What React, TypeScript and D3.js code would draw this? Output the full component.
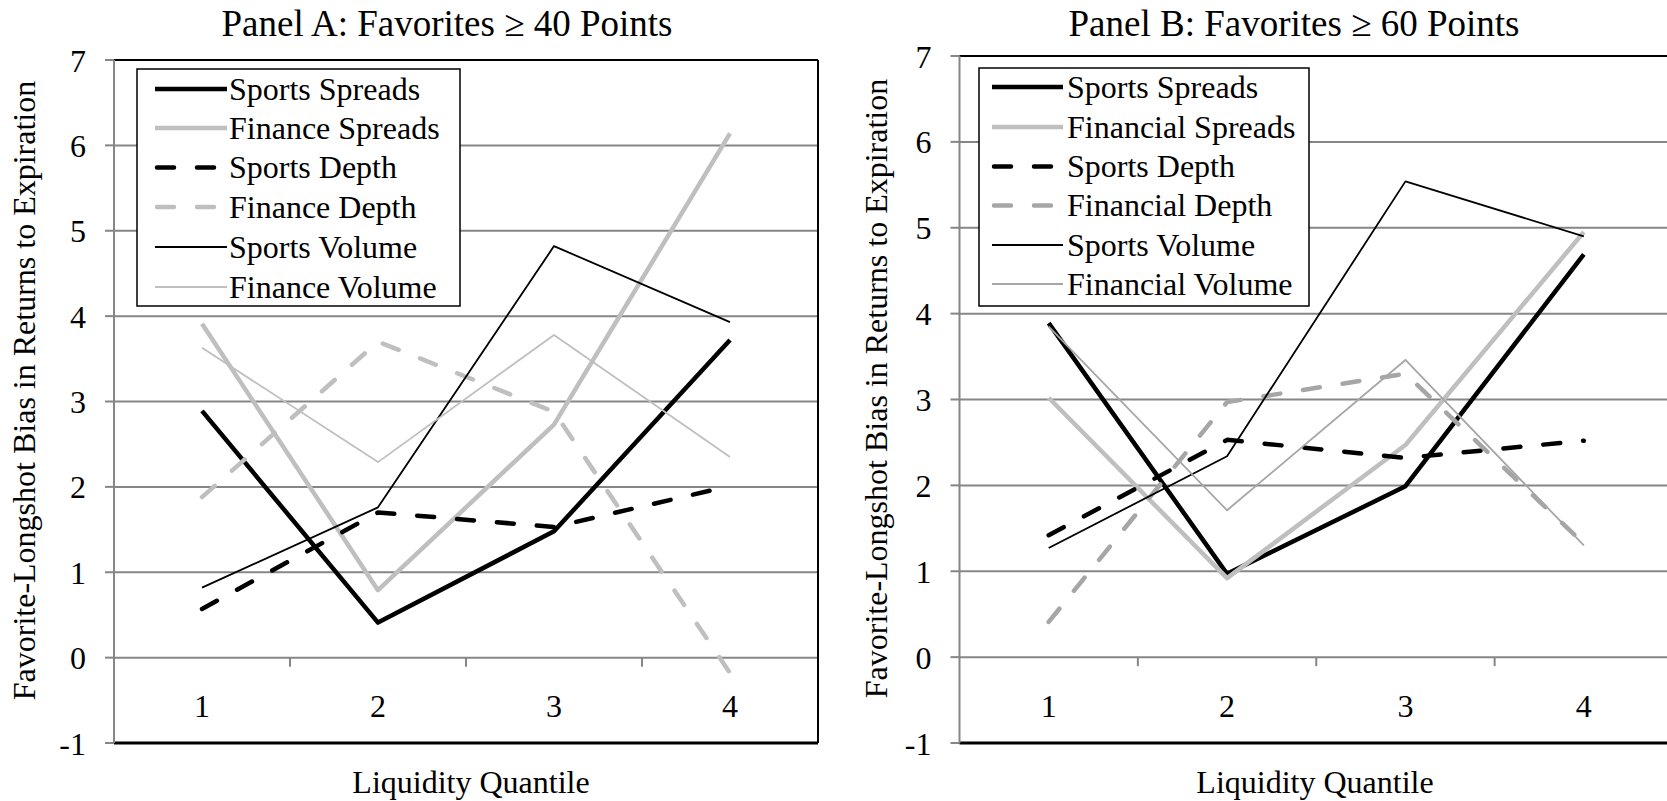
import React from 'react';
import * as d3 from 'd3';

// Liquidity quantiles on the x axis
const categories = ['1', '2', '3', '4'];
const yTicks = [-1, 0, 1, 2, 3, 4, 5, 6, 7];

// Panel A: favorites >= 40 points
const namesA = ['Sports Spreads', 'Finance Spreads', 'Sports Depth', 'Finance Depth', 'Sports Volume', 'Finance Volume'];
const sportsSpreadsA = [2.89, 0.41, 1.48, 3.72];
const financeSpreadsA = [3.91, 0.79, 2.73, 6.14];
const sportsDepthA = [0.57, 1.70, 1.53, 2.01];
const financeDepthA = [1.88, 3.70, 2.88, -0.18];
const sportsVolumeA = [0.82, 1.76, 4.82, 3.93];
const financeVolumeA = [3.63, 2.29, 3.78, 2.35];

// Panel B: favorites >= 60 points
const namesB = ['Sports Spreads', 'Financial Spreads', 'Sports Depth', 'Financial Depth', 'Sports Volume', 'Financial Volume'];
const sportsSpreadsB = [3.89, 0.97, 1.99, 4.69];
const financialSpreadsB = [3.02, 0.92, 2.47, 4.95];
const sportsDepthB = [1.42, 2.53, 2.32, 2.52];
const financialDepthB = [0.41, 2.97, 3.30, 1.32];
const sportsVolumeB = [1.27, 2.34, 5.54, 4.90];
const financialVolumeB = [3.85, 1.71, 3.46, 1.30];

const FONT = '"Liberation Serif", "Times New Roman", serif';
const DASH = '17 23';

type LineStyle = { color: string; width: number; dash?: string };

const stylesA: LineStyle[] = [
  { color: '#000', width: 4.5 },
  { color: '#bfbfbf', width: 4.5 },
  { color: '#000', width: 4.5, dash: DASH },
  { color: '#bfbfbf', width: 4.5, dash: DASH },
  { color: '#000', width: 1.8 },
  { color: '#bfbfbf', width: 1.8 },
];
const stylesB: LineStyle[] = [
  { color: '#000', width: 4.5 },
  { color: '#bfbfbf', width: 4.5 },
  { color: '#000', width: 4.5, dash: DASH },
  { color: '#a6a6a6', width: 4.5, dash: DASH },
  { color: '#000', width: 1.8 },
  { color: '#a6a6a6', width: 1.8 },
];

type PanelProps = {
  title: string;
  titleX: number;
  left: number;
  right: number;
  top: number;
  bottom: number;
  yTitleX: number;
  xTitleX: number;
  legend: { x: number; y: number; w: number; h: number; lineX1: number; lineX2: number; textX: number; rowY: number[] };
  names: string[];
  series: number[][];
  styles: LineStyle[];
};

function Panel(p: PanelProps) {
  const x = d3.scaleBand<string>().domain(categories).range([p.left, p.right]);
  const y = d3.scaleLinear().domain([-1, 7]).range([p.bottom, p.top]);
  const cx = (c: string) => (x(c) as number) + x.bandwidth() / 2;
  const line = d3
    .line<number>()
    .x((_, i) => cx(categories[i]))
    .y((d) => y(d));
  const grid = '#868686';
  const y0 = y(0);

  return (
    <g fontFamily={FONT}>
      <text x={p.titleX} y={36} fontSize={37} textAnchor="middle">
        {p.title}
      </text>

      {/* gridlines */}
      {yTicks.filter((t) => t >= 0 && t < 7).map((t) => (
        <line key={t} x1={p.left} x2={p.right} y1={y(t)} y2={y(t)} stroke={grid} strokeWidth={2} />
      ))}
      {/* value axis ticks and labels */}
      {yTicks.map((t) => (
        <g key={'yt' + t}>
          <line x1={p.left - 9} x2={p.left} y1={y(t)} y2={y(t)} stroke={grid} strokeWidth={2} />
          <text x={p.left - 28} y={y(t) + 11.5} fontSize={32} textAnchor="end">
            {t}
          </text>
        </g>
      ))}
      {/* category ticks on zero line */}
      {categories.slice(1).map((c) => (
        <line key={'ct' + c} x1={x(c)} x2={x(c)} y1={y0} y2={y0 + 9} stroke={grid} strokeWidth={2} />
      ))}
      {categories.map((c) => (
        <text key={'cl' + c} x={cx(c)} y={717} fontSize={32} textAnchor="middle">
          {c}
        </text>
      ))}

      {/* plot border */}
      <line x1={p.left} x2={p.right} y1={p.top} y2={p.top} stroke="#000" strokeWidth={2} />
      <line x1={p.right} x2={p.right} y1={p.top} y2={p.bottom} stroke="#000" strokeWidth={2} />
      <line x1={p.left} x2={p.right} y1={p.bottom} y2={p.bottom} stroke="#000" strokeWidth={3} />
      <line x1={p.left} x2={p.left} y1={p.top} y2={p.bottom} stroke={grid} strokeWidth={2} />

      {/* series */}
      {p.series.map((s, i) => (
        <path
          key={'s' + i}
          d={line(s) || ''}
          fill="none"
          stroke={p.styles[i].color}
          strokeWidth={p.styles[i].width}
          strokeDasharray={p.styles[i].dash}
          strokeLinecap={p.styles[i].dash ? 'round' : 'butt'}
          strokeLinejoin="round"
        />
      ))}

      {/* legend */}
      <rect x={p.legend.x} y={p.legend.y} width={p.legend.w} height={p.legend.h} fill="#fff" stroke="#000" strokeWidth={1.5} />
      {p.names.map((n, i) => (
        <g key={'lg' + i}>
          <line
            x1={p.legend.lineX1 + (p.styles[i].dash ? 2 : 0)}
            x2={p.legend.lineX2}
            y1={p.legend.rowY[i]}
            y2={p.legend.rowY[i]}
            stroke={p.styles[i].color}
            strokeWidth={p.styles[i].width}
            strokeDasharray={p.styles[i].dash}
            strokeLinecap={p.styles[i].dash ? 'round' : 'butt'}
          />
          <text x={p.legend.textX} y={p.legend.rowY[i] + 10.7} fontSize={32}>
            {n}
          </text>
        </g>
      ))}

      {/* axis titles */}
      <text
        transform={`translate(${p.yTitleX},${(p.top + p.bottom) / 2 - 11}) rotate(-90)`}
        fontSize={32}
        textAnchor="middle"
      >
        Favorite-Longshot Bias in Returns to Expiration
      </text>
      <text x={p.xTitleX} y={793} fontSize={32} textAnchor="middle">
        Liquidity Quantile
      </text>
    </g>
  );
}

export default function App() {
  return (
    <svg
      width={1667}
      height={801}
      style={{ position: 'absolute', left: 0, top: 0, background: '#fff' }}
    >
      <rect width={1667} height={801} fill="#fff" />
      <Panel
        title="Panel A: Favorites ≥ 40 Points"
        titleX={447}
        left={114}
        right={818}
        top={60}
        bottom={743}
        yTitleX={35}
        xTitleX={471}
        legend={{ x: 137, y: 69, w: 323, h: 237, lineX1: 155, lineX2: 227, textX: 229, rowY: [89, 128, 167.5, 207, 247, 287] }}
        names={namesA}
        series={[sportsSpreadsA, financeSpreadsA, sportsDepthA, financeDepthA, sportsVolumeA, financeVolumeA]}
        styles={stylesA}
      />
      <Panel
        title="Panel B: Favorites ≥ 60 Points"
        titleX={1294}
        left={959.5}
        right={1673}
        top={56}
        bottom={743}
        yTitleX={887}
        xTitleX={1315}
        legend={{ x: 979, y: 68, w: 330, h: 238, lineX1: 992, lineX2: 1063, textX: 1067, rowY: [87, 127, 166.5, 205.5, 245, 284] }}
        names={namesB}
        series={[sportsSpreadsB, financialSpreadsB, sportsDepthB, financialDepthB, sportsVolumeB, financialVolumeB]}
        styles={stylesB}
      />
    </svg>
  );
}
